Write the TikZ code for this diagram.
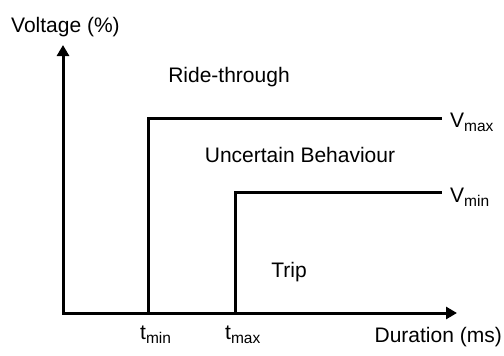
\documentclass[tikz,border=0pt]{standalone}
\usepackage{fontspec}
\setmainfont{Liberation Sans}
\usetikzlibrary{arrows.meta}
\tikzset{
  axis/.style={line width=3pt, {Triangle[length=11pt,width=12pt]}-{Triangle[length=11pt,width=12pt]}},
  limit/.style={line width=3pt},
  lbl/.style={font=\fontsize{21}{24}\selectfont, inner sep=0pt},
}
\newcommand{\sub}[1]{\raisebox{-0.4ex}{\fontsize{15.5}{18}\selectfont #1}}

\begin{document}
\begin{tikzpicture}[x=1pt,y=-1pt] % one unit = one point, y runs downwards
    \useasboundingbox (0,0) rectangle (504,356);

    % axes
    \coordinate (origin) at (63,313);
    \coordinate (ytop) at (63,45);
    \coordinate (xend) at (457,313);
    % limit lines
    \coordinate (tmin) at (148,313);
    \coordinate (tmax) at (235,313);
    \coordinate (vmax) at (442,118);
    \coordinate (vmin) at (442,192);

    \node (ylabel) [lbl, anchor=base west] at (11,32) {Voltage (\%)};
    \node (xlabel) [lbl, anchor=base east] at (502,342) {Duration (ms)};

    \node (ride) [lbl, anchor=base] at (229,82) {Ride-through};
    \node (uncertain) [lbl, anchor=base] at (300,162) {Uncertain Behaviour};
    \node (trip) [lbl, anchor=base] at (289,277) {Trip};

    \node (vmaxlabel) [lbl, anchor=base west] at (450,127) {V\sub{max}};
    \node (vminlabel) [lbl, anchor=base west] at (450,202) {V\sub{min}};
    \node (tminlabel) [lbl, anchor=base west] at (140,339) {t\sub{min}};
    \node (tmaxlabel) [lbl, anchor=base west] at (225,339) {t\sub{max}};

    \draw [axis] (ytop) -- (origin) -- (xend);
    \draw [limit] (tmin) |- (vmax);
    \draw [limit] (tmax) |- (vmin);
\end{tikzpicture}
\end{document}
